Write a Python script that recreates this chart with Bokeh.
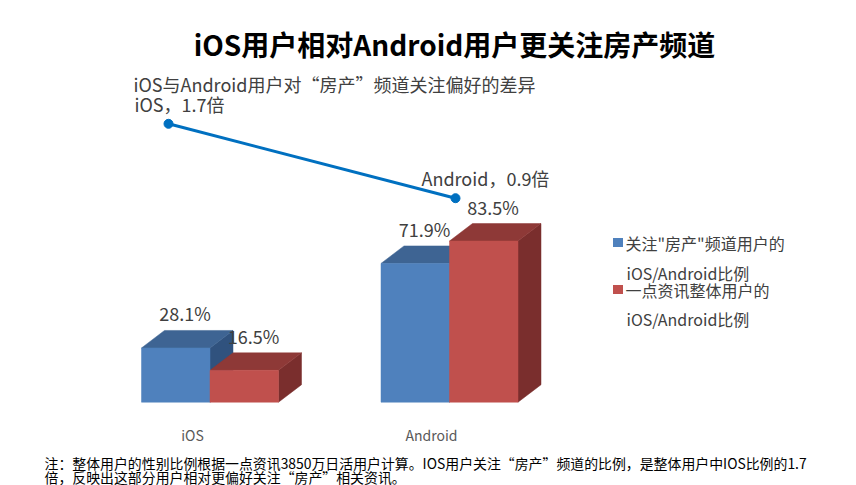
from bokeh.plotting import figure
from bokeh.models import Range1d, ColumnDataSource, Label, BoxAnnotation
from bokeh.core.properties import value
from bokeh.embed import file_html
from bokeh.resources import INLINE

# ---------------- data ----------------
title_text = "iOS用户相对Android用户更关注房产频道"
categories = ["iOS", "Android"]
channel_share = [28.1, 71.9]      # 关注"房产"频道用户的 iOS/Android比例
overall_share = [16.5, 83.5]      # 一点资讯整体用户的 iOS/Android比例
legend_lines = [["关注\"房产\"频道用户的", "iOS/Android比例"],
                ["一点资讯整体用户的", "iOS/Android比例"]]
ratio_title = "iOS与Android用户对“房产”频道关注偏好的差异"
ratio_values = [1.7, 0.9]
ratio_labels = ["iOS，1.7倍", "Android，0.9倍"]
note_lines = ["注：整体用户的性别比例根据一点资讯3850万日活用户计算。IOS用户关注“房产”频道的比例，是整体用户中IOS比例的1.7",
              "倍，反映出这部分用户相对更偏好关注“房产”相关资讯。"]

# ---------------- layout helpers (picture px -> data) ----------------
W, H = 856, 485
FONT = "Noto Sans CJK SC"
TXT = "#404040"

def xd(X):   # main x (group index)
    return (X - 209.5) / 239.5

def yd(Y):   # main y (percent)
    return (401.7 - Y) / 1.93

def lx(X):   # line x
    return (X - 168.0) / 287.0

def ly(Y):   # line y (ratio)
    return 1.7 + (123.3 - Y) / 93.0

def cx(X):   # category label x
    return (X - 192.0) / 239.0

p = figure(width=W, height=H, output_backend="svg", toolbar_location=None,
           x_range=Range1d(xd(0), xd(W)), y_range=Range1d(yd(H), yd(0)),
           min_border=0, min_border_left=0, min_border_right=0,
           min_border_top=0, min_border_bottom=0)
p.extra_x_ranges = {"line": Range1d(lx(0), lx(W)), "cat": Range1d(cx(0), cx(W))}
p.extra_y_ranges = {"ratio": Range1d(ly(H), ly(0))}
p.axis.visible = False
p.xgrid.visible = False
p.ygrid.visible = False
p.outline_line_color = None
p.background_fill_color = "white"
p.border_fill_color = "white"

# ---------------- 3D bars ----------------
BAR_W = 68.5 / 239.5
DX = 23.0 / 239.5
DY = 17.5 / 1.93

series = [
    (channel_share, -1, "#4F81BD", "#3E6493", "#30527E"),
    (overall_share, 0, "#C0504D", "#8E3937", "#7A2E2D"),
]
sides_x, sides_y, sides_c = [], [], []
tops_x, tops_y, tops_c = [], [], []
fr_l, fr_r, fr_t, fr_c = [], [], [], []
lab_x, lab_y, lab_t = [], [], []
for gi, cat in enumerate(categories):
    for vals, off, cf, ct, cs in series:
        v = vals[gi]
        x0 = gi + off * BAR_W
        x1 = x0 + BAR_W
        sides_x.append([x1, x1 + DX, x1 + DX, x1])
        sides_y.append([0, DY, v + DY, v])
        sides_c.append(cs)
        tops_x.append([x0, x1, x1 + DX, x0 + DX])
        tops_y.append([v, v, v + DY, v + DY])
        tops_c.append(ct)
        fr_l.append(x0); fr_r.append(x1); fr_t.append(v); fr_c.append(cf)
        lab_x.append((x0 + x1) / 2 + DX * 0.4)
        lab_y.append(v + DY)
        lab_t.append(f"{v:.1f}%")

p.patches(xs=sides_x, ys=sides_y, fill_color=sides_c, line_color=sides_c, line_width=0.5)
p.patches(xs=tops_x, ys=tops_y, fill_color=tops_c, line_color=tops_c, line_width=0.5)
p.quad(left=fr_l, right=fr_r, bottom=0, top=fr_t, fill_color=fr_c, line_color=fr_c, line_width=0.5)

p.text(x=lab_x, y=lab_y, text=lab_t, text_font=value(FONT), text_font_size="18px",
       text_color=TXT, text_align="center", text_baseline="bottom", y_offset=-4)

# category labels
p.text(x=list(range(len(categories))), y=[yd(434)] * len(categories), text=categories,
       x_range_name="cat", text_font=value(FONT), text_font_size="14px",
       text_color="#595959", text_align="center", text_baseline="middle")

# ---------------- ratio line ----------------
line_src = ColumnDataSource(dict(x=list(range(len(ratio_values))), y=ratio_values, t=ratio_labels))
p.line("x", "y", source=line_src, x_range_name="line", y_range_name="ratio",
       line_color="#0070C0", line_width=3)
p.scatter("x", "y", source=line_src, x_range_name="line", y_range_name="ratio",
          marker="circle", size=9, fill_color="#0070C0", line_color="#0070C0")
p.text("x", "y", text="t", source=line_src, x_range_name="line", y_range_name="ratio",
       text_font=value(FONT), text_font_size="18px", text_color=TXT,
       text_align="left", text_baseline="middle", x_offset=-34, y_offset=-20)

# ---------------- titles ----------------
p.add_layout(Label(x=xd(454), y=yd(43.5), text=title_text, text_font=FONT,
                   text_font_size="28px", text_font_style="bold", text_color="#000000",
                   text_align="center", text_baseline="middle"))
p.add_layout(Label(x=xd(133), y=yd(83), text=ratio_title, text_font=FONT,
                   text_font_size="18px", text_color=TXT,
                   text_align="left", text_baseline="middle"))

# ---------------- legend ----------------
leg_colors = ["#4F81BD", "#C0504D"]
leg_y1 = [242, 289]
leg_y2 = [272, 318]
for i in range(2):
    p.add_layout(BoxAnnotation(left=xd(612.5), right=xd(622.5),
                               top=yd(leg_y1[i] - 4.5), bottom=yd(leg_y1[i] + 4.5),
                               fill_color=leg_colors[i], fill_alpha=1.0, line_color=None))
    p.add_layout(Label(x=xd(625), y=yd(leg_y1[i]), text=legend_lines[i][0], text_font=FONT,
                       text_font_size="16px", text_color=TXT,
                       text_align="left", text_baseline="middle"))
    p.add_layout(Label(x=xd(626), y=yd(leg_y2[i]), text=legend_lines[i][1], text_font=FONT,
                       text_font_size="16px", text_color=TXT,
                       text_align="left", text_baseline="middle"))

# ---------------- note ----------------
for i, ny in enumerate([462, 476]):
    p.add_layout(Label(x=xd(44), y=yd(ny), text=note_lines[i], text_font=FONT,
                       text_font_size="13.9px", text_color="#000000",
                       text_align="left", text_baseline="middle"))

open("out.html", "w").write(file_html(p, INLINE))
